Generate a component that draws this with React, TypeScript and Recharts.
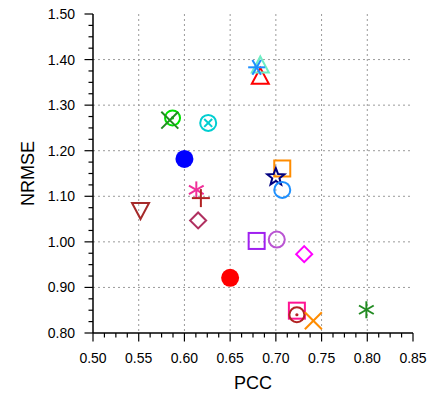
import React from "react";
import {
  ScatterChart,
  Scatter,
  XAxis,
  YAxis,
  CartesianGrid,
  Label,
} from "recharts";

// ---- data ----
const PCC = [
  0.679, 0.683, 0.683, 0.587, 0.584, 0.626, 0.600, 0.707, 0.700, 0.707, 0.613,
  0.618, 0.552, 0.615, 0.679, 0.701, 0.731, 0.650, 0.723, 0.723, 0.741, 0.799,
];
const NRMSE = [
  1.383, 1.386, 1.361, 1.272, 1.267, 1.261, 1.182, 1.161, 1.142, 1.114, 1.114,
  1.096, 1.071, 1.047, 1.002, 1.005, 0.973, 0.921, 0.849, 0.840, 0.827, 0.851,
];

const X_MAJOR = [0.5, 0.55, 0.6, 0.65, 0.7, 0.75, 0.8, 0.85];
const Y_MAJOR = [0.8, 0.9, 1.0, 1.1, 1.2, 1.3, 1.4, 1.5];

// ---- marker styles (one per point, same order as data) ----
type Kind =
  | "asteriskH" | "triUp" | "dotCircle" | "cross" | "circleX" | "disc"
  | "square" | "star" | "circle" | "asterisk" | "plus" | "triDown" | "diamond";

const STYLES: { kind: Kind; color: string }[] = [
  { kind: "asteriskH", color: "#1E90FF" },
  { kind: "triUp", color: "#6EEEC4" },
  { kind: "triUp", color: "#FF0000" },
  { kind: "dotCircle", color: "#00E000" },
  { kind: "cross", color: "#228B22" },
  { kind: "circleX", color: "#00CED1" },
  { kind: "disc", color: "#0000FF" },
  { kind: "square", color: "#FF8C00" },
  { kind: "star", color: "#000080" },
  { kind: "circle", color: "#1E90FF" },
  { kind: "asterisk", color: "#F0309A" },
  { kind: "plus", color: "#B22222" },
  { kind: "triDown", color: "#A52A2A" },
  { kind: "diamond", color: "#B03060" },
  { kind: "square", color: "#A020F0" },
  { kind: "circle", color: "#BA55D3" },
  { kind: "diamond", color: "#FF00FF" },
  { kind: "disc", color: "#FF0000" },
  { kind: "square", color: "#FF1493" },
  { kind: "dotCircle", color: "#B22222" },
  { kind: "cross", color: "#FF8C00" },
  { kind: "asterisk", color: "#228B22" },
];
// draw order (later on top)
const ORDER = [2, 1, 0, 3, 4, 5, 6, 7, 8, 9, 10, 11, 12, 13, 14, 15, 16, 17, 18, 19, 20, 21];

const FONT = '"Liberation Sans", Arial, Helvetica, sans-serif';
const SW = 2;

function subdivide(majors: number[], n: number) {
  const out: number[] = [];
  for (let i = 0; i < majors.length - 1; i++) {
    const step = (majors[i + 1] - majors[i]) / n;
    for (let k = 0; k < n; k++) out.push(+(majors[i] + k * step).toFixed(5));
  }
  out.push(majors[majors.length - 1]);
  return out;
}
const X_TICKS = subdivide(X_MAJOR, 4);
const Y_TICKS = subdivide(Y_MAJOR, 4);

const isMajor = (v: number, majors: number[]) =>
  majors.some((m) => Math.abs(m - v) < 1e-6);

function Marker({ cx, cy, kind, color }: { cx: number; cy: number; kind: Kind; color: string }) {
  const p = { stroke: color, strokeWidth: SW, fill: "none" };
  const line = (a: number, r: number) => {
    const dx = Math.cos(a) * r, dy = Math.sin(a) * r;
    return <line key={a} x1={cx - dx} y1={cy - dy} x2={cx + dx} y2={cy + dy} {...p} />;
  };
  switch (kind) {
    case "disc":
      return <circle cx={cx} cy={cy} r={9} fill={color} />;
    case "circle":
      return <circle cx={cx} cy={cy} r={8} {...p} />;
    case "dotCircle":
      return (
        <g>
          <circle cx={cx} cy={cy} r={7.5} {...p} />
          <circle cx={cx} cy={cy} r={1.6} fill={color} />
        </g>
      );
    case "circleX":
      return (
        <g>
          <circle cx={cx} cy={cy} r={8} {...p} />
          {line(Math.PI / 4, 5.6)}
          {line(-Math.PI / 4, 5.6)}
        </g>
      );
    case "square":
      return <rect x={cx - 8} y={cy - 8} width={16} height={16} {...p} />;
    case "diamond":
      return <polygon points={`${cx},${cy - 8} ${cx + 8},${cy} ${cx},${cy + 8} ${cx - 8},${cy}`} {...p} />;
    case "triUp":
      return <polygon points={`${cx},${cy - 9.5} ${cx + 8.5},${cy + 6.5} ${cx - 8.5},${cy + 6.5}`} {...p} />;
    case "triDown":
      return <polygon points={`${cx},${cy + 9.5} ${cx + 8.5},${cy - 6.5} ${cx - 8.5},${cy - 6.5}`} {...p} />;
    case "plus":
      return <g>{line(0, 9)}{line(Math.PI / 2, 9)}</g>;
    case "cross":
      return <g>{line(Math.PI / 4, 12)}{line(-Math.PI / 4, 12)}</g>;
    case "asterisk":
      return <g>{line(Math.PI / 2, 8.5)}{line(Math.PI / 6, 8.5)}{line(-Math.PI / 6, 8.5)}</g>;
    case "asteriskH":
      return <g>{line(0, 8.5)}{line(Math.PI / 3, 8.5)}{line(-Math.PI / 3, 8.5)}</g>;
    case "star": {
      const pts: string[] = [];
      for (let i = 0; i < 10; i++) {
        const r = i % 2 === 0 ? 9 : 3.8;
        const a = -Math.PI / 2 + (i * Math.PI) / 5;
        pts.push(`${cx + r * Math.cos(a)},${cy + r * Math.sin(a)}`);
      }
      return <polygon points={pts.join(" ")} {...p} />;
    }
  }
  return null;
}

const MAJ = 8.5;
const MIN = 4.5;
const TICK_STROKE = { stroke: "#000", strokeWidth: 1.2 };

const BottomTick = (props: any) => {
  const { x, y, payload } = props;
  const major = isMajor(payload.value, X_MAJOR);
  return (
    <g>
      <line x1={x} y1={y} x2={x} y2={y + (major ? MAJ : MIN)} {...TICK_STROKE} />
      {major && (
        <text x={x} y={y + 30} textAnchor="middle" fontSize={14} fontFamily={FONT} fill="#000">
          {payload.value.toFixed(2)}
        </text>
      )}
    </g>
  );
};
const TopTick = (props: any) => {
  const { x, y, payload } = props;
  const major = isMajor(payload.value, X_MAJOR);
  return <line x1={x} y1={y} x2={x} y2={y - (major ? MAJ : MIN)} {...TICK_STROKE} />;
};
const LeftTick = (props: any) => {
  const { x, y, payload } = props;
  const major = isMajor(payload.value, Y_MAJOR);
  return (
    <g>
      <line x1={x} y1={y} x2={x - (major ? MAJ : MIN)} y2={y} {...TICK_STROKE} />
      {major && (
        <text x={x - 18} y={y + 5} textAnchor="end" fontSize={14} fontFamily={FONT} fill="#000">
          {payload.value.toFixed(2)}
        </text>
      )}
    </g>
  );
};
const RightTick = (props: any) => {
  const { x, y, payload } = props;
  const major = isMajor(payload.value, Y_MAJOR);
  return <line x1={x} y1={y} x2={x + (major ? MAJ : MIN)} y2={y} {...TICK_STROKE} />;
};

const axisLine = { stroke: "#000", strokeWidth: 1.5 };

export default function App() {
  return (
    <div style={{ position: "absolute", left: 0, top: 0, width: 432, height: 395, background: "#fff" }}>
      <ScatterChart width={432} height={395} margin={{ top: 14, right: 19, bottom: 0, left: 0 }}>
        <CartesianGrid
          stroke="#9a9a9a"
          strokeDasharray="2 3"
          verticalValues={X_MAJOR.slice(1, -1)}
          horizontalValues={Y_MAJOR.slice(1, -1)}
        />
        <XAxis
          xAxisId={0}
          dataKey="x"
          type="number"
          domain={[0.5, 0.85]}
          allowDataOverflow
          ticks={X_TICKS}
          interval={0}
          height={62}
          tickSize={0}
          tickMargin={0}
          tickLine={false}
          axisLine={axisLine}
          tick={<BottomTick />}
        >
          <Label
            content={(p: any) => {
              const vb = p.viewBox;
              return (
                <text x={vb.x + vb.width / 2} y={vb.y + 56} textAnchor="middle" fontSize={18} fontFamily={FONT} fill="#000">
                  PCC
                </text>
              );
            }}
          />
        </XAxis>
        <XAxis
          xAxisId="top"
          orientation="top"
          type="number"
          domain={[0.5, 0.85]}
          allowDataOverflow
          ticks={X_TICKS}
          interval={0}
          height={0}
          tickSize={0}
          tickMargin={0}
          tickLine={false}
          axisLine={axisLine}
          tick={<TopTick />}
        />
        <YAxis
          yAxisId={0}
          dataKey="y"
          type="number"
          domain={[0.8, 1.5]}
          allowDataOverflow
          ticks={Y_TICKS}
          interval={0}
          width={93}
          tickSize={0}
          tickMargin={0}
          tickLine={false}
          axisLine={axisLine}
          tick={<LeftTick />}
        >
          <Label
            content={(p: any) => {
              const vb = p.viewBox;
              const cx = 34;
              const cy = vb.y + vb.height / 2;
              return (
                <text x={cx} y={cy} transform={`rotate(-90, ${cx}, ${cy})`} textAnchor="middle" fontSize={18} fontFamily={FONT} fill="#000">
                  NRMSE
                </text>
              );
            }}
          />
        </YAxis>
        <YAxis
          yAxisId="right"
          orientation="right"
          type="number"
          domain={[0.8, 1.5]}
          allowDataOverflow
          ticks={Y_TICKS}
          interval={0}
          width={0}
          tickSize={0}
          tickMargin={0}
          tickLine={false}
          axisLine={axisLine}
          tick={<RightTick />}
        />
        {ORDER.map((i) => {
          const s = STYLES[i];
          return (
            <Scatter
              key={i}
              xAxisId={0}
              yAxisId={0}
              data={[{ x: PCC[i], y: NRMSE[i] }]}
              isAnimationActive={false}
              shape={(props: any) => <Marker cx={props.cx} cy={props.cy} kind={s.kind} color={s.color} />}
            />
          );
        })}
      </ScatterChart>
    </div>
  );
}
